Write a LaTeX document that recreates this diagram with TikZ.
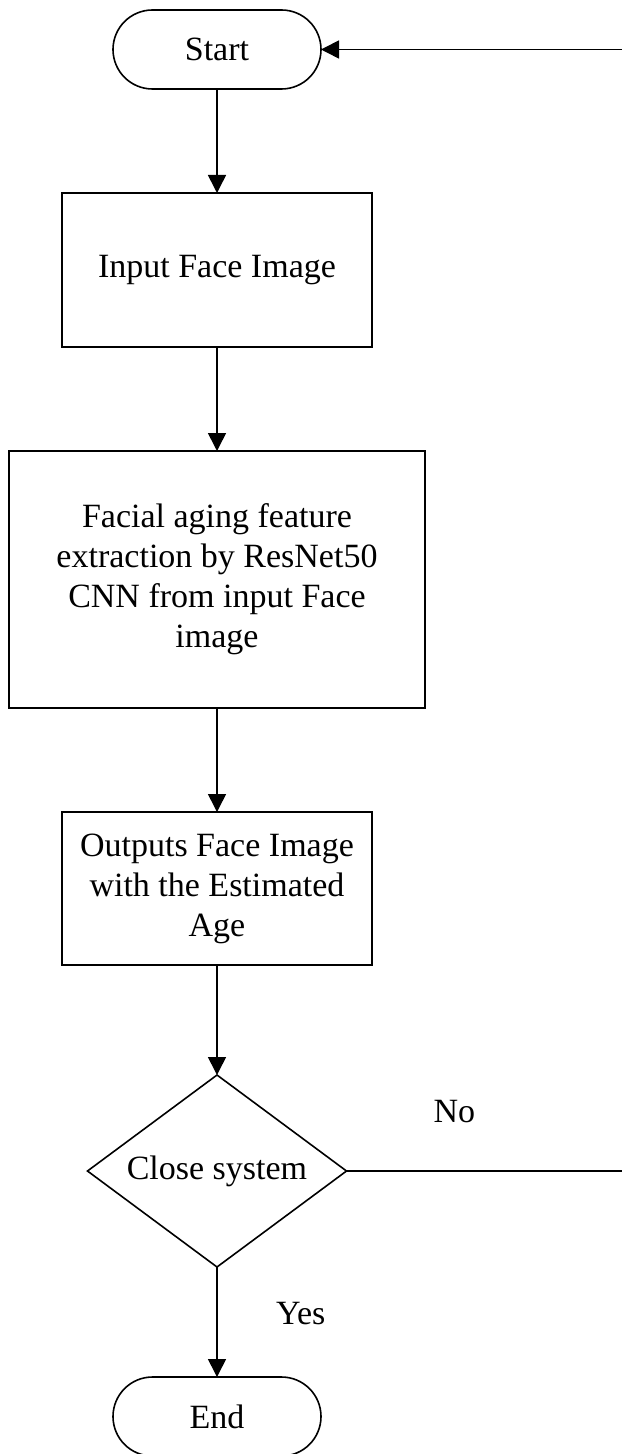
\documentclass[tikz,border=0pt]{standalone}
\usepackage{fontspec}
\setmainfont{Liberation Serif}
\usepackage{tikz}
\usetikzlibrary{arrows.meta,positioning,shapes.geometric}

\begin{document}
\begin{tikzpicture}[font=\fontsize{17pt}{20pt}\selectfont,node distance=52pt,line width=0.8pt,outer sep=0pt,
   term/.style={draw,rounded corners=19.75pt,minimum width=104pt,minimum height=39.5pt,align=center},
   proc/.style={draw,minimum width=155pt,minimum height=77pt,align=center},
   decide/.style={draw,diamond,aspect=1.35,inner sep=0pt,minimum width=129.5pt,minimum height=96pt,align=center},
   flow/.style={-{Triangle[length=9pt,width=9pt]}},
   lbl/.style={inner sep=0pt}]
  \node[term] (start) {Start};
  \useasboundingbox ([xshift=-108.5pt,yshift=24.75pt]start.center) rectangle ++(310.5pt,-727pt);
  \node[proc,below=of start] (input) {Input Face Image};
  \node[proc,below=of input,minimum width=208pt,minimum height=128.5pt] (feat) {Facial aging feature\\extraction by ResNet50\\CNN from input Face\\image};
  \node[proc,below=of feat,minimum height=76.5pt] (out) {Outputs Face Image\\with the Estimated\\Age};
  \node[decide,below=55pt of out] (close) {Close system};
  \node[term,below=55pt of close] (end) {End};
  \coordinate (loop) at ([xshift=203pt]start.center);
  \draw[flow] (start)--(input);
  \draw[flow] (input)--(feat);
  \draw[flow] (feat)--(out);
  \draw[flow] (out)--(close);
  \draw[flow] (close) -- node[lbl,pos=0.42,right=29.5pt]{Yes} (end);
  \draw[flow] (close.east) -- node[lbl,pos=0.39,above=24pt]{No} (close.east -| loop) -- (loop) -- (start.east);
\end{tikzpicture}
\end{document}
